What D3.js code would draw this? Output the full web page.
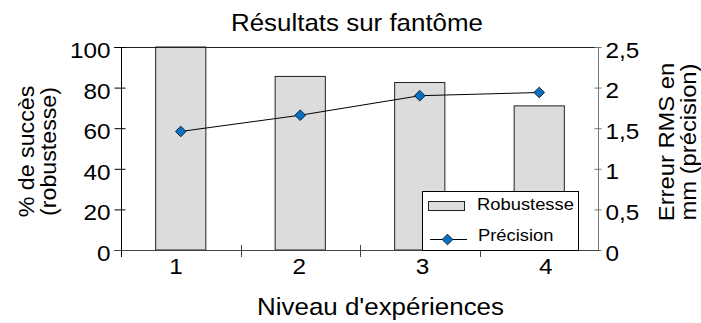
<!DOCTYPE html>
<html>
<head>
<meta charset="utf-8">
<script src="https://cdn.jsdelivr.net/npm/d3@7/dist/d3.min.js"></script>
<style>
  html, body { margin: 0; padding: 0; background: #fff; }
  svg { display: block; font-family: "Liberation Sans", Arial, sans-serif; }
  text { fill: #000; }
</style>
</head>
<body>
<svg id="chart" width="701" height="323"></svg>
<script>
// Experience levels on the x axis
const levels = ["1", "2", "3", "4"];
// Robustness: success rate in % (bars, left axis)
const robustesse = [100, 85.5, 82.5, 71];
// Precision: RMS error in mm (line, right axis)
const precision = [1.46, 1.66, 1.9, 1.94];
// Tick values for both vertical axes
const leftTicks = [0, 20, 40, 60, 80, 100];
const rightTicks = [0, 0.5, 1, 1.5, 2, 2.5];

const svg = d3.select("#chart");
const SX = 1.08; // the chart's lettering runs slightly wide

const plot = { left: 121, right: 599, top: 47, bottom: 250 };

const x = d3.scaleBand().domain(levels).range([plot.left, plot.right]).padding(0);
const xLabel = d3.scaleBand().domain(levels).range([114.5, 607.5]).padding(0);
const yL = d3.scaleLinear().domain([0, 100]).range([plot.bottom, plot.top]);
const yR = d3.scaleLinear().domain([0, 2.5]).range([plot.bottom, plot.top]);
const barW = x.bandwidth() * 0.42;
const frFmt = v => String(v).replace(".", ",");

function label(parent, px, py, str, size, anchor = "middle", rot = 0) {
  return parent.append("text")
    .attr("transform", `translate(${px},${py}) rotate(${rot}) scale(${SX},1)`)
    .attr("text-anchor", anchor)
    .style("font-size", size + "px")
    .text(str);
}

// Bars
svg.append("g").selectAll("rect")
  .data(robustesse)
  .join("rect")
  .attr("x", (d, i) => x(levels[i]) + x.bandwidth() / 2 - barW / 2)
  .attr("y", d => yL(d))
  .attr("width", barW)
  .attr("height", d => yL(0) - yL(d))
  .attr("fill", "#dcdcdc")
  .attr("stroke", "#222")
  .attr("stroke-width", 1);

// Top border of the plot area
svg.append("line")
  .attr("x1", plot.left - 7).attr("x2", plot.right)
  .attr("y1", plot.top + 0.5).attr("y2", plot.top + 0.5)
  .attr("stroke", "#222");

// Left axis
const gL = svg.append("g").attr("transform", `translate(${plot.left + 0.5},0)`)
  .call(d3.axisLeft(yL).tickValues(leftTicks).tickSize(7).tickPadding(0).tickFormat(d => d));
gL.select(".domain").attr("stroke", "#000").attr("d", `M0,${plot.top}V${plot.bottom + 7}`);
gL.selectAll(".tick line").attr("x1", 4).attr("stroke", "#000");
gL.selectAll(".tick text").remove();
leftTicks.forEach(v => label(svg, 110.5, yL(v) + 11, String(v), 22.5, "end"));

// Right axis
const gR = svg.append("g").attr("transform", `translate(${plot.right - 0.5},0)`)
  .call(d3.axisRight(yR).tickValues(rightTicks).tickSize(3).tickPadding(0));
gR.select(".domain").attr("stroke", "#777").attr("d", `M0,${plot.top}V${plot.bottom}`);
gR.selectAll(".tick line").attr("x1", -4).attr("stroke", "#777");
gR.selectAll(".tick text").remove();
rightTicks.forEach(v => label(svg, 605.5, yR(v) + 10.5, frFmt(v), 22.5, "start"));

// Bottom axis: category separators
const bounds = levels.slice(1).map(l => x(l));
svg.append("line")
  .attr("x1", plot.left - 7).attr("x2", plot.right)
  .attr("y1", plot.bottom + 0.5).attr("y2", plot.bottom + 0.5)
  .attr("stroke", "#444");
svg.append("g").selectAll("line").data(bounds).join("line")
  .attr("x1", d => Math.round(d) + 0.5).attr("x2", d => Math.round(d) + 0.5)
  .attr("y1", plot.bottom - 5).attr("y2", plot.bottom + 7)
  .attr("stroke", "#444");
levels.forEach(l => label(svg, xLabel(l) + xLabel.bandwidth() / 2, 273.5, l, 22.5));

// Precision line with diamond markers
const pts = precision.map((v, i) => [x(levels[i]) + x.bandwidth() / 2, yR(v)]);
svg.append("path")
  .attr("d", d3.line()(pts))
  .attr("fill", "none")
  .attr("stroke", "#000")
  .attr("stroke-width", 1);
const diamond = d3.symbol().type(d3.symbolDiamond2).size(72);
svg.append("g").selectAll("path").data(pts).join("path")
  .attr("transform", d => `translate(${d[0]},${d[1]})`)
  .attr("d", diamond)
  .attr("fill", "#0a6fbf")
  .attr("stroke", "#0b2540")
  .attr("stroke-width", 1);

// Legend
const lg = svg.append("g");
lg.append("rect").attr("x", 422.5).attr("y", 191.5).attr("width", 156).attr("height", 59)
  .attr("fill", "#fff").attr("stroke", "#000");
lg.append("rect").attr("x", 428.5).attr("y", 201.5).attr("width", 36).attr("height", 9)
  .attr("fill", "#dcdcdc").attr("stroke", "#222");
label(lg, 477, 210, "Robustesse", 17, "start");
lg.append("line").attr("x1", 430).attr("x2", 467).attr("y1", 239.5).attr("y2", 239.5).attr("stroke", "#000");
lg.append("path").attr("transform", "translate(447.5,239.5)").attr("d", diamond)
  .attr("fill", "#0a6fbf").attr("stroke", "#0b2540");
label(lg, 478, 240.5, "Précision", 17, "start");

// Titles
label(svg, 357, 31, "Résultats sur fantôme", 24);
label(svg, 380.5, 315, "Niveau d'expériences", 24);
label(svg, 33.5, 151.5, "% de succès", 21.5, "middle", -90);
label(svg, 55.5, 151.5, "(robustesse)", 21.5, "middle", -90);
label(svg, 673.5, 142, "Erreur RMS en", 22, "middle", -90);
label(svg, 695.5, 142, "mm (précision)", 22, "middle", -90);
</script>
</body>
</html>
